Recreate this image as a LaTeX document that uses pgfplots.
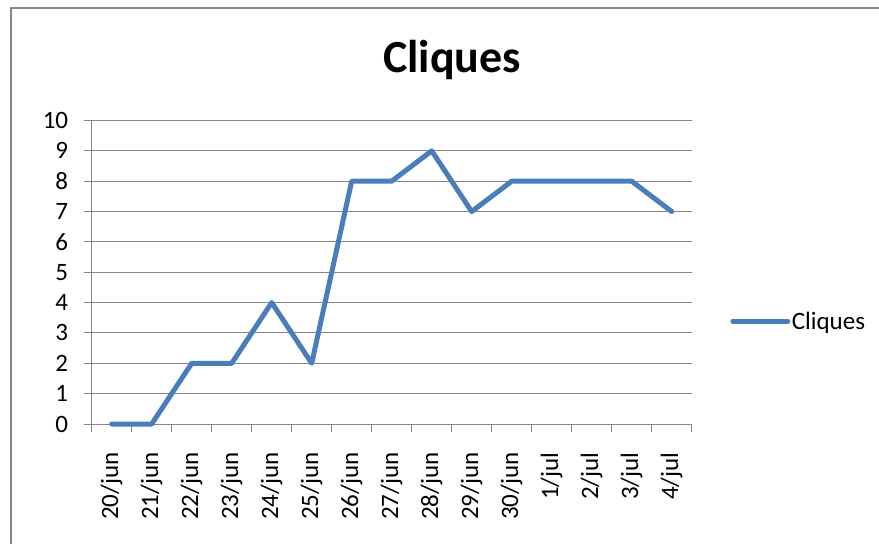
\documentclass[border=0pt]{standalone}
\usepackage{pgfplots}
\pgfplotsset{compat=1.18}
\usepackage{fontspec}
\setmainfont{Carlito}
\definecolor{xlblue}{RGB}{74,126,187}
\definecolor{xlgray}{RGB}{134,134,134}
\begin{document}
\begin{tikzpicture}[x=1pt,y=1pt]
\useasboundingbox (0,0) rectangle (879,544);
\draw[xlgray, line width=1.6pt] (11,-5) -- (11,536) -- (885,536);
\node[font=\fontsize{46}{52}\selectfont\bfseries] at (452,484) {Cliques};
\begin{axis}[at={(91.7pt,120pt)}, anchor=south west, scale only axis,
  width=600pt, height=303.5pt,
  xmin=-0.5, xmax=14.5, ymin=0, ymax=10, clip=false,
  ytick={0,...,10},
  xtick={0,...,14},
  xticklabels={20/jun,21/jun,22/jun,23/jun,24/jun,25/jun,26/jun,27/jun,28/jun,29/jun,30/jun,1/jul,2/jul,3/jul,4/jul},
  minor xtick={-0.5,0.5,...,14.5},
  major x tick style={draw=none},
  minor x tick style={draw=xlgray, line width=1pt},
  major y tick style={draw=xlgray, line width=1pt},
  tick align=outside,
  major tick length=8pt, minor tick length=8pt,
  axis lines*=left,
  axis line style={xlgray, line width=1pt, -},
  ymajorgrids, grid style={xlgray, line width=1pt},
  tick label style={font=\fontsize{25}{29}\selectfont},
  /pgf/number format/assume math mode=true,
  xticklabel style={rotate=90, anchor=east},
  xticklabel shift=17pt,
  yticklabel shift=12pt,
  legend style={at={(1.064,0.339)}, anchor=west, draw=none, fill=none,
    font=\fontsize{25}{29}\selectfont, inner sep=0pt, nodes={inner sep=1.5pt}},
  legend cell align=left,
  legend image code/.code={\draw[#1, line width=5pt, line cap=round] (0pt,0pt) -- (55pt,0pt);},
]
\addplot[xlblue, line width=5pt, line join=round, line cap=round, mark=none] coordinates {
(0,0) (1,0) (2,2) (3,2) (4,4) (5,2) (6,8) (7,8) (8,9) (9,7) (10,8) (11,8) (12,8) (13,8) (14,7)
};
\addlegendentry{Cliques}
\end{axis}
\end{tikzpicture}
\end{document}
